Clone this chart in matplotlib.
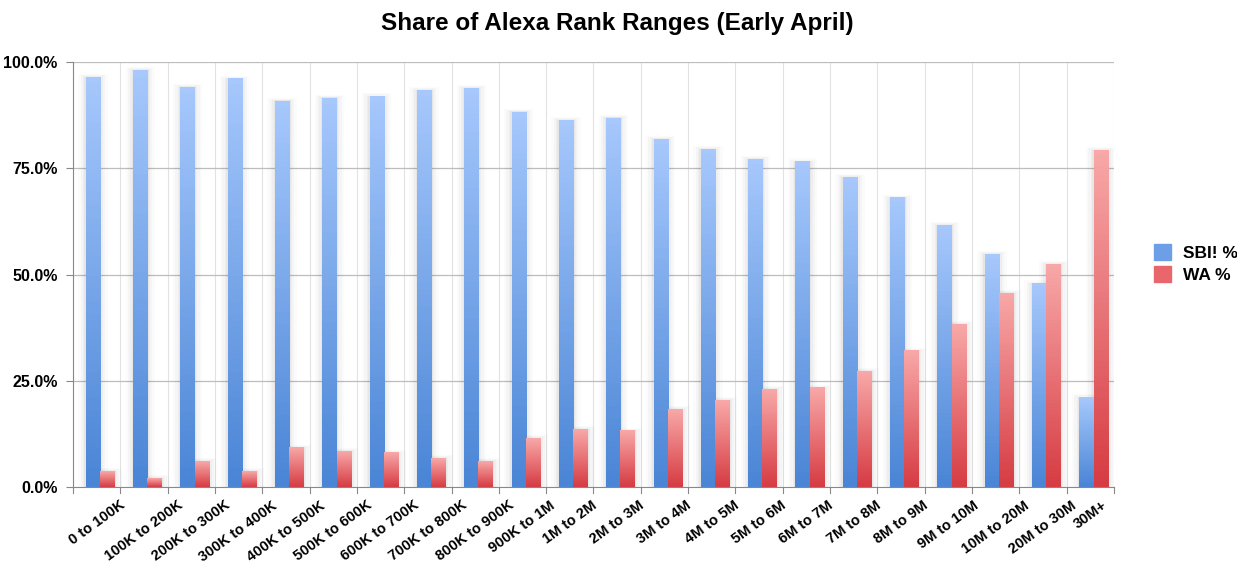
import numpy as np
import matplotlib
matplotlib.use("Agg")
import matplotlib.pyplot as plt
from matplotlib.colors import LinearSegmentedColormap
from matplotlib.patches import Rectangle

# data
ranges = ["0 to 100K", "100K to 200K", "200K to 300K", "300K to 400K", "400K to 500K",
          "500K to 600K", "600K to 700K", "700K to 800K", "800K to 900K", "900K to 1M",
          "1M to 2M", "2M to 3M", "3M to 4M", "4M to 5M", "5M to 6M", "6M to 7M",
          "7M to 8M", "8M to 9M", "9M to 10M", "10M to 20M", "20M to 30M", "30M+"]
sbi_pct = [96.3, 98.0, 94.0, 96.0, 90.8, 91.5, 91.8, 93.3, 93.7, 88.2, 86.2, 86.8,
           81.7, 79.4, 77.0, 76.5, 72.8, 68.0, 61.5, 54.7, 47.8, 21.0]
wa_pct = [3.7, 2.0, 6.0, 3.7, 9.2, 8.3, 8.0, 6.7, 6.0, 11.5, 13.5, 13.2,
          18.3, 20.3, 23.0, 23.3, 27.2, 32.0, 38.3, 45.5, 52.3, 79.2]

plt.rcParams['font.family'] = ['Liberation Sans', 'DejaVu Sans']

blue_cm = LinearSegmentedColormap.from_list("b", ["#4a85d6", "#a6c8fc"])
red_cm = LinearSegmentedColormap.from_list("r", ["#d63c43", "#f8a8a8"])

fig = plt.figure(figsize=(12.37, 5.67), dpi=100)
ax = fig.add_axes([0.059, 0.141, 0.8415, 0.7497])

n = len(ranges)
x = np.arange(n)
w = 0.30
off = 0.07
grad = np.linspace(0, 1, 64).reshape(-1, 1)


def gbar(xc, h, cmap):
    # soft shadow
    for k, a in [(0.16, 0.025), (0.11, 0.035), (0.06, 0.045), (0.03, 0.05)]:
        ax.add_patch(Rectangle((xc - w / 2 - k, 0), w + 2 * k, h + k * 5,
                               color="#555555", alpha=a, lw=0, zorder=2))
    ax.imshow(grad, cmap=cmap, aspect="auto", origin="lower",
              extent=(xc - w / 2, xc + w / 2, 0, h), zorder=3)


for i in range(n):
    gbar(x[i] + off - w / 2, sbi_pct[i], blue_cm)
    gbar(x[i] + off + w / 2, wa_pct[i], red_cm)

ax.set_xlim(-0.5, n - 0.5)
ax.set_ylim(0, 100)
ax.set_yticks([0, 25, 50, 75, 100])
ax.set_yticklabels(["0.0%", "25.0%", "50.0%", "75.0%", "100.0%"],
                   fontsize=11.5, fontweight="bold")
ax.set_xticks(x)
ax.set_xticklabels(ranges, rotation=36, ha="center", va="top",
                   fontsize=10.5, fontweight="bold")
ax.tick_params(axis="x", length=0, pad=8)
ax.tick_params(axis="y", length=5, color="#888888", pad=6)

# grid
for b in np.arange(-0.5, n, 1.0):
    ax.axvline(b, color="#e2e2e2", lw=0.8, zorder=0)
    ax.plot([b, b], [0, -1.3], color="#888888", lw=0.8, clip_on=False, zorder=1)
for yv in [25, 50, 75, 100]:
    ax.axhline(yv, color="#bdbdbd", lw=0.9, zorder=1)

for s in ["top", "right"]:
    ax.spines[s].set_visible(False)
ax.spines["left"].set_color("#888888")
ax.spines["bottom"].set_color("#888888")
ax.spines["bottom"].set_zorder(5)

fig.text(0.499, 0.958, "Share of Alexa Rank Ranges (Early April)", ha="center",
         va="center", fontsize=17.5, fontweight="bold")

handles = [Rectangle((0, 0), 1, 1, color="#6d9fe8"), Rectangle((0, 0), 1, 1, color="#e8666c")]
fig.legend(handles, ["SBI! %", "WA %"], loc="center left", bbox_to_anchor=(0.92, 0.535),
           frameon=False, prop={"size": 12.5, "weight": "bold"}, handlelength=1.0,
           handleheight=1.0, handletextpad=0.7, labelspacing=0.3)

fig.savefig("out.png", dpi=100)
